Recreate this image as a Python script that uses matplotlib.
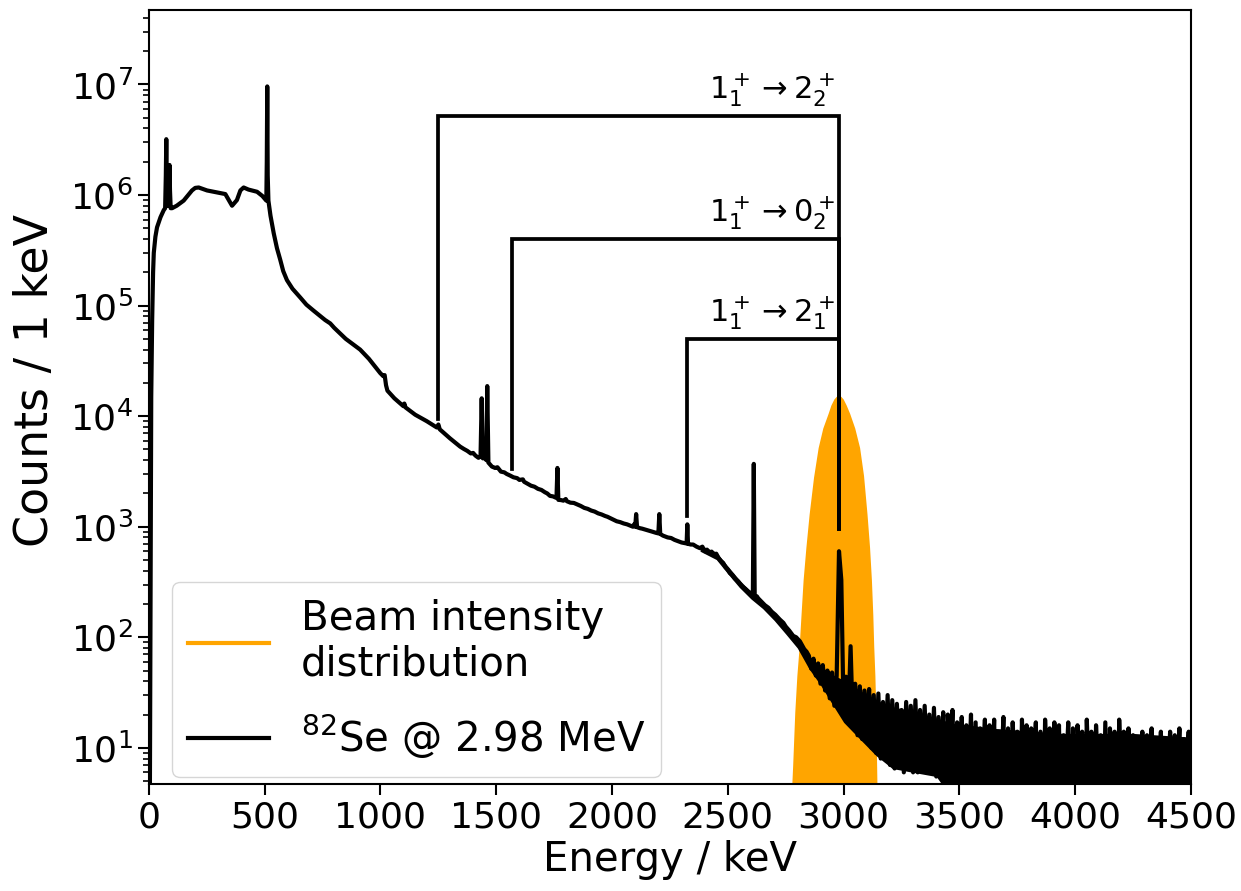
import numpy as np
import matplotlib
matplotlib.use("Agg")
import matplotlib.pyplot as plt
from matplotlib.lines import Line2D

# --- gamma-ray spectrum, 82Se at 2.98 MeV (counts per 1 keV bin) ---
# low-energy part: threshold, X-ray lines, annihilation peak, Compton continuum
low_energy = [0, 4, 7, 10, 14, 18, 21, 28, 35, 50, 64, 70, 73, 75, 77, 80, 84, 87, 89, 91,
              94, 100, 120, 150, 170, 186, 200, 215, 251, 290, 330, 345, 359, 370, 380,
              395, 409, 430, 467, 490, 507, 509, 511, 513, 516, 525, 539, 553, 567, 580,
              596, 620, 654, 680, 711, 761, 783, 800, 850, 912, 950, 999, 1012, 1018,
              1024, 1030, 1060, 1099, 1103, 1108, 1150, 1200, 1243, 1250, 1256, 1300]
low_counts = [1, 3, 300, 1.5e4, 7.4e4, 2.0e5, 3.0e5, 4.2e5, 5.1e5, 6.3e5, 7.3e5, 7.6e5,
              1.5e6, 3.2e6, 1.2e6, 8.0e5, 8.0e5, 1.3e6, 1.87e6, 1.1e6, 7.6e5, 7.6e5,
              8.0e5, 8.9e5, 1.0e6, 1.1e6, 1.16e6, 1.17e6, 1.1e6, 1.06e6, 1.02e6, 9.0e5,
              8.0e5, 8.5e5, 9.0e5, 1.1e6, 1.17e6, 1.12e6, 1.07e6, 9.8e5, 8.9e5, 2.0e6,
              9.6e6, 1.5e6, 8.9e5, 6.5e5, 4.5e5, 3.3e5, 2.6e5, 2.05e5, 1.7e5, 1.42e5,
              1.18e5, 1.02e5, 9.0e4, 7.4e4, 6.9e4, 6.3e4, 5.0e4, 4.0e4, 3.3e4, 2.45e4,
              2.3e4, 2.35e4, 1.9e4, 1.7e4, 1.45e4, 1.23e4, 1.3e4, 1.2e4, 1.03e4, 9.0e3,
              7.9e3, 8.4e3, 7.6e3, 6.3e3]

# intermediate part with the background lines (1460, 1764, 2204, 2614 keV ...)
mid_energy = [1344, 1360, 1375, 1390, 1400, 1410, 1423, 1432, 1437, 1442, 1450, 1457, 1461,
              1466, 1481, 1495, 1505, 1520, 1535, 1545, 1560, 1574, 1590, 1600, 1615, 1620,
              1635, 1650, 1665, 1680, 1695, 1710, 1720, 1732, 1745, 1760, 1764, 1768, 1780,
              1790, 1800, 1805, 1820, 1835, 1847, 1865, 1880, 1895, 1910, 1925, 1940, 1955,
              1970, 1980, 1991, 2005, 2020, 2035, 2050, 2065, 2080, 2090, 2095, 2100, 2104,
              2108, 2120, 2130, 2145, 2160, 2175, 2190, 2200, 2204, 2208, 2220, 2240, 2255,
              2270, 2285, 2300, 2315, 2322, 2325, 2328, 2340, 2350, 2365, 2379, 2390, 2400,
              2410, 2420, 2430, 2440, 2450, 2460, 2470, 2480, 2490, 2500, 2509, 2520, 2530,
              2545, 2560, 2575, 2588, 2598, 2605, 2608, 2612, 2616, 2625, 2631, 2645, 2660,
              2675, 2690, 2705, 2724, 2740, 2750, 2765, 2782, 2795, 2811, 2820, 2830, 2840]
mid_counts = [5300, 5050, 4850, 4600, 4650, 4400, 4200, 4300, 14500, 4150, 4200, 4000, 18700,
              3800, 3500, 3400, 3450, 3150, 3100, 3000, 2900, 2800, 2750, 2650, 2680, 2550,
              2450, 2350, 2300, 2200, 2150, 2050, 2000, 1900, 1880, 1820, 3400, 1750, 1740,
              1720, 1780, 1700, 1650, 1640, 1600, 1540, 1480, 1450, 1400, 1370, 1320, 1290,
              1250, 1230, 1200, 1160, 1120, 1100, 1070, 1050, 1020, 1000, 1050, 1000, 1300,
              990, 970, 960, 940, 920, 900, 880, 870, 1300, 860, 830, 800, 790,
              760, 740, 720, 710, 705, 1050, 700, 690, 690, 660, 640, 660, 600,
              620, 580, 595, 560, 570, 520, 490, 470, 430, 410, 380, 365, 340,
              320, 290, 275, 260, 250, 240, 245, 3700, 230, 235, 225, 210, 195,
              185, 170, 160, 145, 135, 125, 115, 103, 100, 92, 85, 78, 74]

# high-energy tail on a 10 keV grid from 2850 keV to 4500 keV
tail_start, tail_step = 2850, 10
tail_counts = [68, 52, 64, 45, 58, 38, 56, 33, 50, 28, 48, 24, 45, 600, 330, 20, 44, 17, 83, 16,
               38, 13, 36, 12, 33, 14, 34, 10, 30, 9, 31, 8, 26, 9, 30, 7, 27, 6.5, 25, 8,
               22, 6, 26, 7, 24, 6, 27, 6, 22, 7, 24, 6, 20, 6, 23, 5.5, 19, 6, 21, 1,
               20, 6, 22, 1, 17, 5, 19, 1, 16, 6, 20, 1, 17, 1, 15, 6, 18, 1, 16, 5,
               18, 1, 14, 6, 19, 1, 15, 1, 17, 6, 14, 1, 18, 5, 16, 1, 15, 6, 17, 1,
               14, 1, 18, 6, 15, 1, 17, 5, 16, 1, 13, 6, 17, 1, 15, 1, 16, 6, 14, 1,
               18, 5, 14, 1, 16, 6, 13, 1, 17, 1, 15, 6, 14, 1, 18, 5, 14, 1, 15, 6,
               13, 1, 12, 5, 14, 1, 13, 6, 15, 1, 12, 5, 14, 1, 11, 6, 14, 1, 13, 5,
               15, 1, 12, 6, 14, 1]

# spread of the counts (statistical scatter) above 2380 keV: lower / upper bounds
scatter_energy = [2380, 2450, 2500, 2550, 2600, 2650, 2700, 2750, 2800, 2850, 2900, 2950,
                  3000, 3070, 3140, 3210, 3300, 3400, 3440, 3450, 3650, 3950, 4250, 4500]
scatter_low = [600, 505, 375, 282, 222, 182, 142, 107, 80, 52, 37, 25, 17, 12, 8.5, 6.5,
               6, 5.5, 4.2, 1, 1, 1, 1, 1]
scatter_high = [680, 590, 440, 330, 258, 212, 166, 130, 97, 66, 54, 46, 41, 33, 27, 23.5,
                21.5, 18.5, 17.5, 17, 15, 13.5, 13.5, 12.5]

# beam intensity distribution (peak at 2978 keV)
beam_energy = [2760, 2772, 2780, 2789, 2798, 2808, 2816, 2825, 2837, 2851, 2870, 2890, 2910,
               2933, 2945, 2958, 2968, 2978, 2988, 2998, 3011, 3026, 3048, 3069, 3086, 3101,
               3112, 3120, 3126, 3130, 3135, 3139, 3142, 3144, 3150]
beam_counts = [0.3, 3, 7, 21, 45, 83, 160, 330, 650, 1300, 2800, 5200, 7800, 10600, 12600,
               14300, 15100, 15500, 15100, 14300, 12600, 10600, 7800, 5200, 2900, 1300, 650,
               330, 160, 83, 45, 21, 8, 4.5, 0.3]

# transitions from the 1+ state at 2980 keV
level_energy = 2980
transition_energy = [1249, 1570, 2325]
transition_labels = [r'$1_1^+ \rightarrow 2_2^+$', r'$1_1^+ \rightarrow 0_2^+$',
                     r'$1_1^+ \rightarrow 2_1^+$']
bracket_top = [5.2e6, 4.0e5, 5.0e4]
bracket_foot = [9.5e3, 3.35e3, 1.26e3]
level_foot = 955

tail_energy = tail_start + tail_step * np.arange(len(tail_counts))
energy = np.concatenate([low_energy, mid_energy, tail_energy])
counts = np.concatenate([low_counts, mid_counts, tail_counts])

plt.rcParams['font.family'] = ['DejaVu Sans']
fig = plt.figure(figsize=(12.41, 8.91), dpi=100)
ax = fig.add_axes([0.12, 0.12, 0.8397, 0.8686])

ax.fill_between(beam_energy, beam_counts, 0.05, color='orange', lw=0, zorder=1)
ax.fill_between(scatter_energy, scatter_low, scatter_high, color='black', lw=0, zorder=2)
ax.plot(energy, counts, color='black', lw=3.0, zorder=2)

for e, top, foot, label in zip(transition_energy, bracket_top, bracket_foot, transition_labels):
    ax.plot([e, e, level_energy, level_energy], [foot, top, top, level_foot],
            color='black', lw=2.7, zorder=3, solid_joinstyle='miter')
    ax.annotate(label, xy=(2962, top), xytext=(0, 5), textcoords='offset points',
                ha='right', va='bottom', fontsize=22)

ax.set_yscale('log')
ax.set_xlim(0, 4500)
ax.set_ylim(4.7, 4.7e7)
ax.set_xticks(np.arange(0, 4501, 500))
ax.tick_params(axis='both', which='major', labelsize=26, length=8, width=1.5)
ax.tick_params(axis='y', which='minor', length=4.5, width=1.2)
for s in ax.spines.values():
    s.set_linewidth(1.5)

ax.set_xlabel('Energy / keV', fontsize=29)
ax.set_ylabel('Counts / 1 keV', fontsize=33)
ax.yaxis.set_label_coords(-0.087, 0.521)

handles = [Line2D([], [], color='orange', lw=3), Line2D([], [], color='black', lw=3)]
ax.legend(handles, ['Beam intensity\ndistribution', r'$^{82}$Se @ 2.98 MeV'],
          loc='lower left', bbox_to_anchor=(0.022, 0.009), borderaxespad=0,
          fontsize=29, handlelength=2.0, labelspacing=0.7)

fig.savefig('out.png', dpi=100)
